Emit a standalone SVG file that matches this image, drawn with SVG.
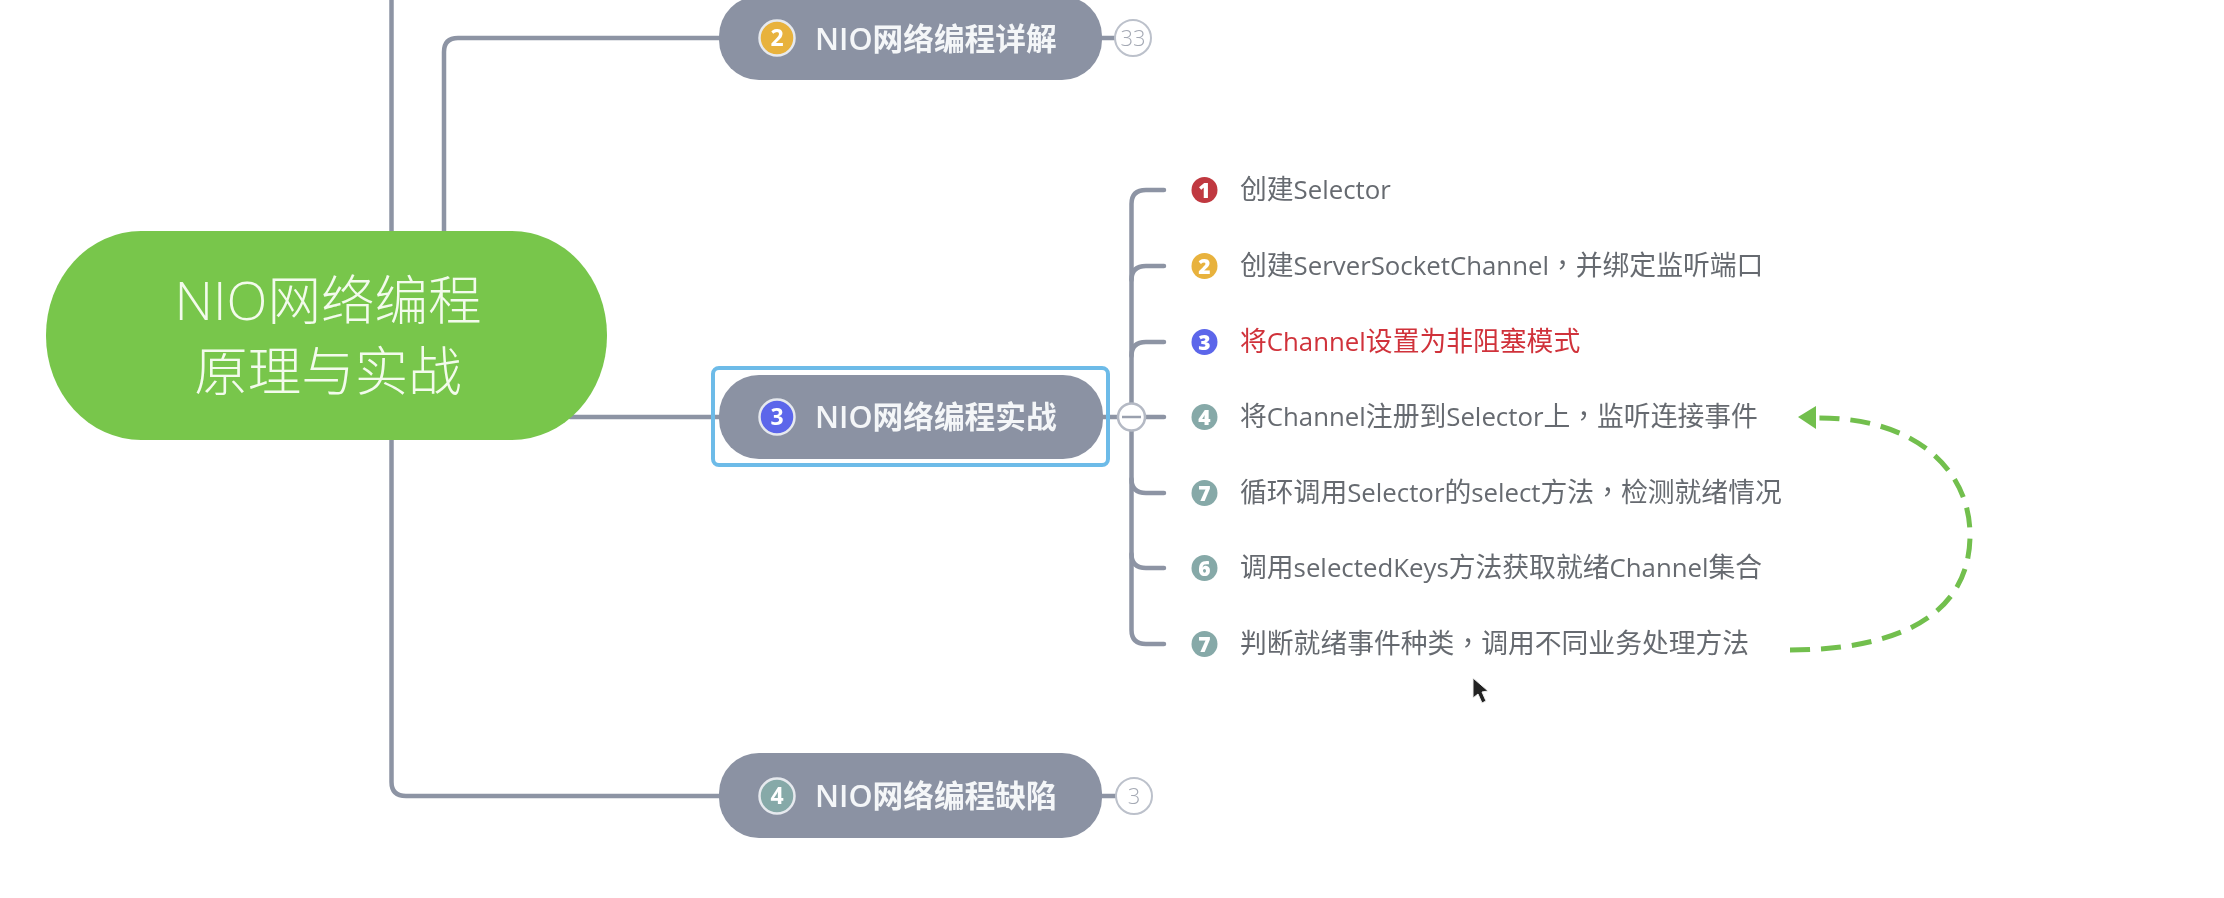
<svg xmlns="http://www.w3.org/2000/svg" width="2224" height="898" viewBox="0 0 2224 898">
<style>
text{font-family:"Open Sans","Noto Sans CJK SC",sans-serif;}
.line{fill:none;stroke:#8d94a4;stroke-width:4.5;stroke-linecap:round}
.pill{fill:#8b92a3}
.nt{font-size:30.7px;font-weight:600;fill:#f4f6f8}
.it{font-size:26.8px;fill:#666a70}
.l{font-size:25.8px}
.bn{font-size:23px;font-weight:700;fill:#fff;text-anchor:middle}
.in{font-size:21px;font-weight:800;fill:#fff;text-anchor:middle}
.ring{stroke:#e6e9ee;stroke-width:2.5}
.cnt{fill:#fff;stroke:#bcc1cb;stroke-width:2}
.ct{font-size:22px;font-weight:300;fill:#a4a9b4;text-anchor:middle}
.rt{font-size:53.5px;fill:#f3fbec;text-anchor:middle;font-weight:300}
.c{font-family:"Noto Sans CJK TC",sans-serif}
</style>
<defs>
<filter id="soft" x="-2%" y="-2%" width="104%" height="104%"><feGaussianBlur stdDeviation="0.7"/></filter>
</defs>
<rect width="2224" height="898" fill="#fff"/>
<g filter="url(#soft)">
<g id="connectors">
<path class="line" d="M391.5 0V231"/>
<path class="line" d="M444 231V52Q444 38 458 38H719"/>
<path class="line" d="M391.5 440V782Q391.5 796 406 796H719"/>
<path class="line" d="M570 417H719"/>
<path class="line" d="M1102 38H1116"/>
<path class="line" d="M1102 796H1116"/>
<path class="line" d="M1103 417H1164"/>
<path class="line" d="M1164 190H1146Q1131.5 190 1131.5 204V630Q1131.5 644 1146 644H1164"/>
<path class="line" d="M1164 266H1146Q1131.5 266 1131.5 280"/>
<path class="line" d="M1164 342H1146Q1131.5 342 1131.5 356"/>
<path class="line" d="M1131.5 479Q1131.5 493 1146 493H1164"/>
<path class="line" d="M1131.5 554Q1131.5 568 1146 568H1164"/>
<path d="M1790 650C1880 650 1970 625 1970 535C1970 470 1915 417 1817 418" fill="none" stroke="#72bf4d" stroke-width="5" stroke-dasharray="20 11"/>
<path d="M1798 417L1816 406V429Z" fill="#72bf4d"/>
</g>
<g id="root">
<rect x="46" y="231" width="561" height="209" rx="95" ry="104" fill="#78c64c"/>
<text class="rt" x="328" y="320">NIO网络编程</text>
<text class="rt" x="328" y="391">原理与实战</text>
</g>
<g id="node2">
<rect class="pill" x="719" y="-4" width="383" height="84" rx="40"/>
<circle class="ring" cx="777" cy="38" r="17.5" fill="#e8b23c"/>
<text class="bn" x="777" y="46">2</text>
<text class="nt" x="815" y="50">NIO网络编程详解</text>
<circle class="cnt" cx="1133" cy="38" r="18"/>
<text class="ct" x="1133" y="46">33</text>
</g>
<g id="node3">
<rect x="713" y="368" width="395" height="97" rx="6" fill="none" stroke="#6dbbe8" stroke-width="4"/>
<rect class="pill" x="719" y="375" width="384" height="84" rx="40"/>
<circle class="ring" cx="777" cy="417" r="17.5" fill="#5b66ea"/>
<text class="bn" x="777" y="425">3</text>
<text class="nt" x="815" y="428">NIO网络编程实战</text>
<circle cx="1131.5" cy="417" r="13.5" fill="#fff" stroke="#b4b9c4" stroke-width="2.5"/>
<path d="M1122 417H1141" stroke="#9aa0ae" stroke-width="2.5"/>
</g>
<g id="node4">
<rect class="pill" x="719" y="753" width="383" height="85" rx="40"/>
<circle class="ring" cx="777" cy="796" r="17.5" fill="#86a9a8"/>
<text class="bn" x="777" y="804">4</text>
<text class="nt" x="815" y="807">NIO网络编程缺陷</text>
<circle class="cnt" cx="1134" cy="796" r="18"/>
<text class="ct" x="1134" y="804">3</text>
</g>
<g id="item1"><circle cx="1204.5" cy="190" r="13" fill="#c0393f"/><text class="in" x="1204.5" y="197.5">1</text><text class="it" x="1240" y="199">创建<tspan class="l">Selector</tspan></text></g>
<g id="item2"><circle cx="1204.5" cy="266" r="13" fill="#e8b23c"/><text class="in" x="1204.5" y="273.5">2</text><text class="it" x="1240" y="275">创建<tspan class="l">ServerSocketChannel</tspan><tspan class="c">，</tspan>并绑定监听端口</text></g>
<g id="item3"><circle cx="1204.5" cy="342" r="13" fill="#5b66ea"/><text class="in" x="1204.5" y="349.5">3</text><text class="it" x="1240" y="351" style="fill:#d0323a">将<tspan class="l">Channel</tspan>设置为非阻塞模式</text></g>
<g id="item4"><circle cx="1204.5" cy="417" r="13" fill="#86a9a8"/><text class="in" x="1204.5" y="424.5">4</text><text class="it" x="1240" y="426">将<tspan class="l">Channel</tspan>注册到<tspan class="l">Selector</tspan>上<tspan class="c">，</tspan>监听连接事件</text></g>
<g id="item5"><circle cx="1204.5" cy="493" r="13" fill="#86a9a8"/><text class="in" x="1204.5" y="500.5">7</text><text class="it" x="1240" y="502">循环调用<tspan class="l">Selector</tspan>的<tspan class="l">select</tspan>方法<tspan class="c">，</tspan>检测就绪情况</text></g>
<g id="item6"><circle cx="1204.5" cy="568" r="13" fill="#86a9a8"/><text class="in" x="1204.5" y="575.5">6</text><text class="it" x="1240" y="577">调用<tspan class="l">selectedKeys</tspan>方法获取就绪<tspan class="l">Channel</tspan>集合</text></g>
<g id="item7"><circle cx="1204.5" cy="644" r="13" fill="#86a9a8"/><text class="in" x="1204.5" y="651.5">7</text><text class="it" x="1240" y="653">判断就绪事件种类<tspan class="c">，</tspan>调用不同业务处理方法</text></g>
<path id="cursor" d="M1473 678V698L1478 694L1482 703L1486 701L1482 692L1488 691Z" fill="#222" stroke="#eee" stroke-width="1"/>
</g>
</svg>
